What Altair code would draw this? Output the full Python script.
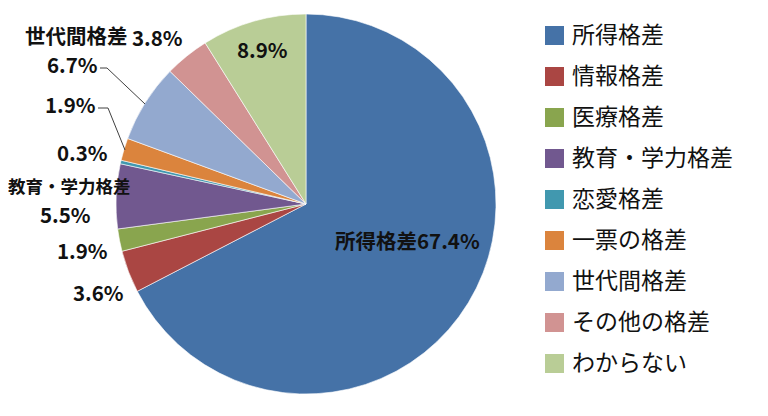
import altair as alt
import pandas as pd

# ---- data ----
categories = ["所得格差", "情報格差", "医療格差", "教育・学力格差", "恋愛格差",
              "一票の格差", "世代間格差", "その他の格差", "わからない"]
values = [67.4, 3.6, 1.9, 5.5, 0.3, 1.9, 6.7, 3.8, 8.9]
colors = ["#4572A7", "#AA4643", "#89A54E", "#71588F", "#4198AF",
          "#DB843D", "#93A9CF", "#D19392", "#B9CD96"]

# ---- label layout (annotation positions, chart pixel coords) ----
label_texts = ["所得格差67.4%", "3.6%", "1.9%", "5.5%", "0.3%",
               "1.9%", "6.7%", "世代間格差", "3.8%", "8.9%"]
label_x = [327, 65, 49, 32, 49, 37, 39, 17, 124, 229]
label_y = [235, 287, 245, 209, 147, 99, 59, 30, 32, 44]

small_texts = ["教育・学力格差"]
small_x = [0]
small_y = [180]

leader_seg = ["a", "a", "a", "b", "b", "b"]
leader_x = [92, 99, 137, 90, 100, 117]
leader_y = [60, 60, 96, 100, 100, 142]
leader_o = [0, 1, 2, 0, 1, 2]

FONT = "Noto Sans CJK JP"

pie_df = pd.DataFrame({"category": categories, "value": values,
                       "idx": list(range(len(categories)))})
lab_df = pd.DataFrame({"t": label_texts, "x": label_x, "y": label_y})
small_df = pd.DataFrame({"t": small_texts, "x": small_x, "y": small_y})
line_df = pd.DataFrame({"seg": leader_seg, "x": leader_x, "y": leader_y, "o": leader_o})

arc = alt.Chart(pie_df).mark_arc(outerRadius=190, stroke="white", strokeWidth=0.6).encode(
    theta=alt.Theta("value:Q", stack=True),
    order=alt.Order("idx:Q"),
    color=alt.Color(
        "category:N",
        sort=categories,
        scale=alt.Scale(domain=categories, range=colors),
        legend=alt.Legend(
            title=None, orient="none", legendX=535, legendY=16,
            symbolType="square", symbolSize=361, symbolStrokeWidth=0,
            labelFont=FONT, labelFontSize=23, labelColor="#111111",
            labelOffset=6, rowPadding=17, padding=0, labelLimit=300,
        ),
    ),
    x=alt.value(298),
    y=alt.value(196),
)

lines = alt.Chart(line_df).mark_line(color="#404040", strokeWidth=1).encode(
    x=alt.X("x:Q", scale=None),
    y=alt.Y("y:Q", scale=None),
    detail="seg:N",
    order="o:Q",
)

text = alt.Chart(lab_df).mark_text(
    align="left", baseline="middle", font=FONT, fontWeight="bold",
    fontSize=20.5, color="#111111"
).encode(
    x=alt.X("x:Q", scale=None),
    y=alt.Y("y:Q", scale=None),
    text="t:N",
)

text_small = alt.Chart(small_df).mark_text(
    align="left", baseline="middle", font=FONT, fontWeight="bold",
    fontSize=17.5, color="#111111"
).encode(
    x=alt.X("x:Q", scale=None),
    y=alt.Y("y:Q", scale=None),
    text="t:N",
)

chart = alt.layer(arc, lines, text, text_small).properties(
    width=752, height=400, padding=0, autosize="none"
).configure_view(stroke=None)

chart.save("out.html", embed_options={"renderer": "svg", "actions": False})
